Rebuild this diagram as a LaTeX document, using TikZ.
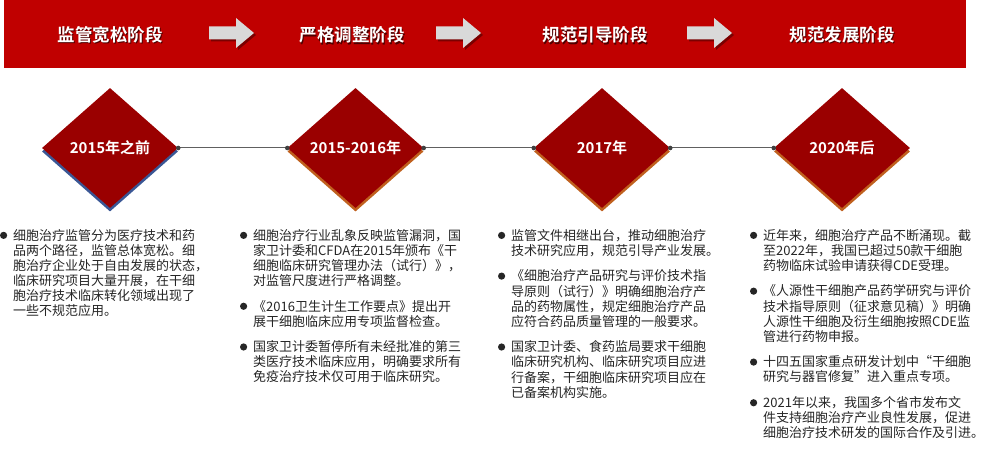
\documentclass[tikz,border=0pt]{standalone}
\usepackage{fontspec}
\setmainfont{Noto Sans CJK SC}[BoldFont={Noto Sans CJK SC Bold}]
\usetikzlibrary{shapes.geometric}
\definecolor{bannerred}{HTML}{C00000}
\definecolor{diared}{HTML}{9A0000}
\definecolor{shblue}{HTML}{3A5795}
\definecolor{shorange}{HTML}{C0601E}
\definecolor{arrowgray}{HTML}{D9D9D9}
\definecolor{arrowsh}{HTML}{7A0000}
\definecolor{txt}{HTML}{262626}
\definecolor{linec}{HTML}{606060}
\definecolor{dotc}{HTML}{404040}
\newcommand\bdot{\makebox[0pt][r]{\tikz[baseline=-4.8pt,x=1pt,y=1pt]\fill[txt] (0,0) circle[radius=3.6pt];\hspace{6pt}}}
\begin{document}
\begin{tikzpicture}[x=1pt,y=-1pt,
  banner/.style={fill=bannerred, minimum width=962pt, minimum height=68pt, inner sep=0pt},
  stitle/.style={text=white, font=\bfseries\fontsize{17.5}{17.5}\selectfont, inner sep=0pt},
  stshadow/.style={text=black, text opacity=0.6, font=\bfseries\fontsize{17.5}{17.5}\selectfont, inner sep=0pt},
  dia/.style={diamond, minimum width=136pt, minimum height=120pt, inner sep=0pt, fill=diared, text=white, font=\bfseries\fontsize{15}{15}\selectfont},
  diash/.style={diamond, minimum width=136pt, minimum height=120pt, inner sep=0pt},
  conn/.style={draw=linec, line width=1pt},
  coltext/.style={anchor=north west, inner sep=0pt, align=left, text=txt, font=\fontsize{13}{15.1}\selectfont},
]
\useasboundingbox (0,0) rectangle (983,454);
\fill[white] (0,0) rectangle (983,454);

% banner
\node[banner] (banner) at (485,34) {};
\foreach \x in {209,436,687}{
  \fill[arrowsh] ([shift={(2,2)}]\x,26.5) -- ++(27,0) -- ++(0,-8.5) -- ++(18,15) -- ++(-18,15) -- ++(0,-8.5) -- ++(-27,0) -- cycle;
  \fill[arrowgray] (\x,26.5) -- ++(27,0) -- ++(0,-8.5) -- ++(18,15) -- ++(-18,15) -- ++(0,-8.5) -- ++(-27,0) -- cycle;
}
\node[stshadow] (t1s) at (111.3,36.3) {监管宽松阶段};
\node[stitle] (t1) at (110,35) {监管宽松阶段};
\node[stshadow] (t2s) at (353.3,36.3) {严格调整阶段};
\node[stitle] (t2) at (352,35) {严格调整阶段};
\node[stshadow] (t3s) at (596.3,36.3) {规范引导阶段};
\node[stitle] (t3) at (595,35) {规范引导阶段};
\node[stshadow] (t4s) at (843.3,36.3) {规范发展阶段};
\node[stitle] (t4) at (842,35) {规范发展阶段};

% diamonds
\node[diash, fill=shblue] (d1s) at (110,151.5) {};
\node[diash, fill=shorange] (d2s) at (355.5,151.5) {};
\node[diash, fill=shorange] (d3s) at (602,151.5) {};
\node[diash, fill=shorange] (d4s) at (842,151.5) {};
\node[dia] (d1) at (110,148) {2015年之前};
\node[dia] (d2) at (355.5,148) {2015-2016年};
\node[dia] (d3) at (602,148) {2017年};
\node[dia] (d4) at (842,148) {2020年后};

\draw[conn] (d1.east) -- (d2.west);
\draw[conn] (d2.east) -- (d3.west);
\draw[conn] (d3.east) -- (d4.west);
\foreach \n in {d1.east,d2.west,d2.east,d3.west,d3.east,d4.west}{
  \fill[dotc] (\n) circle (2.3pt);
}

% text columns
\node[coltext] (c1) at (13,229) {\bdot 细胞治疗监管分为医疗技术和药\\
品两个路径，监管总体宽松。细\\
胞治疗企业处于自由发展的状态，\\
临床研究项目大量开展，在干细\\
胞治疗技术临床转化领域出现了\\
一些不规范应用。};

\node[coltext] (c2) at (253,229) {\bdot 细胞治疗行业乱象反映监管漏洞，国\\
家卫计委和CFDA在2015年颁布《干\\
细胞临床研究管理办法（试行）》，\\
对监管尺度进行严格调整。\\[10.5pt]
\bdot 《2016卫生计生工作要点》提出开\\
展干细胞临床应用专项监督检查。\\[10.5pt]
\bdot 国家卫计委暂停所有未经批准的第三\\
类医疗技术临床应用，明确要求所有\\
免疫治疗技术仅可用于临床研究。};

\node[coltext] (c3) at (511,229) {\bdot 监管文件相继出台，推动细胞治疗\\
技术研究应用，规范引导产业发展。\\[10.5pt]
\bdot 《细胞治疗产品研究与评价技术指\\
导原则（试行）》明确细胞治疗产\\
品的药物属性，规定细胞治疗产品\\
应符合药品质量管理的一般要求。\\[10.5pt]
\bdot 国家卫计委、食药监局要求干细胞\\
临床研究机构、临床研究项目应进\\
行备案，干细胞临床研究项目应在\\
已备案机构实施。};

\node[coltext] (c4) at (763,229) {\bdot 近年来，细胞治疗产品不断涌现。截\\
至2022年，我国已超过50款干细胞\\
药物临床试验申请获得CDE受理。\\[10.5pt]
\bdot 《人源性干细胞产品药学研究与评价\\
技术指导原则（征求意见稿）》明确\\
人源性干细胞及衍生细胞按照CDE监\\
管进行药物申报。\\[10.5pt]
\bdot 十四五国家重点研发计划中“干细胞\\
研究与器官修复”进入重点专项。\\[10.5pt]
\bdot 2021年以来，我国多个省市发布文\\
件支持细胞治疗产业良性发展，促进\\
细胞治疗技术研发的国际合作及引进。};
\end{tikzpicture}
\end{document}
